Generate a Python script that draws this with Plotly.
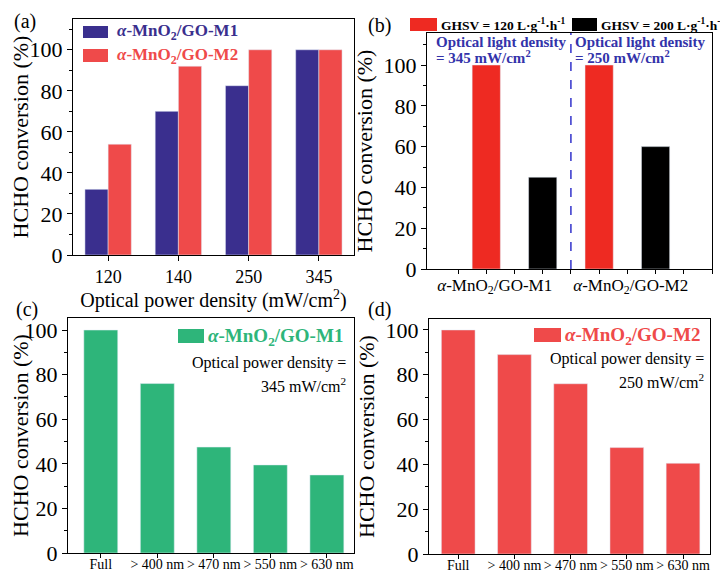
import plotly.graph_objects as go

# ---------------- data ----------------
power_cats = ["120", "140", "250", "345"]
a_m1 = [32, 70, 82.5, 100]
a_m2 = [54, 92, 100, 100]

b_cats = ["<i>α</i>-MnO<sub>2</sub>/GO-M1", "<i>α</i>-MnO<sub>2</sub>/GO-M2"]
b_ghsv120 = [100, 100]
b_ghsv200 = [45, 60]

filter_cats = ["Full", "> 400 nm", "> 470 nm", "> 550 nm", "> 630 nm"]
c_m1 = [100, 76, 47.5, 39.5, 35]
d_m2 = [100, 89, 76, 47.5, 40.5]

# ---------------- style ----------------
FONT = "Liberation Serif"
BLUE = "#3A2F8E"
RED = "#EF4A4A"
RED_B = "#EE2A22"
GREEN = "#2EB57A"
TXTBLUE = "#3333AA"
OFF = 8  # page body margin
W, H = 728 - OFF, 572 - OFF

def px(x):
    return (x - OFF) / W

def py(y):
    return 1 - (y - OFF) / H

fig = go.Figure()

# (a)
fig.add_trace(go.Bar(x=power_cats, y=a_m1, name="α-MnO2/GO-M1", marker_color=BLUE,
                     width=0.33, offset=-0.33, xaxis="x", yaxis="y", showlegend=False))
fig.add_trace(go.Bar(x=power_cats, y=a_m2, name="α-MnO2/GO-M2", marker_color=RED,
                     width=0.33, offset=0.0, xaxis="x", yaxis="y", showlegend=False))

# (b)
b_red_x = [2 * i + 1 for i in range(len(b_cats))]
b_blk_x = [2 * i + 2 for i in range(len(b_cats))]
fig.add_trace(go.Bar(x=b_red_x, y=b_ghsv120, name="GHSV = 120", marker_color=RED_B,
                     width=0.5, offset=-0.25, xaxis="x2", yaxis="y2", showlegend=False))
fig.add_trace(go.Bar(x=b_blk_x, y=b_ghsv200, name="GHSV = 200", marker_color="#000000",
                     width=0.5, offset=-0.25, xaxis="x2", yaxis="y2", showlegend=False))

# (c)
fig.add_trace(go.Bar(x=filter_cats, y=c_m1, name="α-MnO2/GO-M1", marker_color=GREEN,
                     width=0.6, offset=-0.3, xaxis="x3", yaxis="y3", showlegend=False))
# (d)
fig.add_trace(go.Bar(x=filter_cats, y=d_m2, name="α-MnO2/GO-M2", marker_color=RED,
                     width=0.6, offset=-0.3, xaxis="x4", yaxis="y4", showlegend=False))

axis_common = dict(showline=True, mirror=True, linecolor="black", linewidth=1.3,
                   showgrid=False, zeroline=False, ticks="outside", tickcolor="black",
                   ticklen=5, tickwidth=1.2, automargin=False)

ytitle = dict(text="HCHO conversion (%)", font=dict(family=FONT, size=22, color="black"), standoff=4)

def yaxis(domain, rng, anchor):
    return dict(axis_common, domain=domain, range=rng, anchor=anchor,
                tickvals=[0, 20, 40, 60, 80, 100],
                tickfont=dict(family=FONT, size=22, color="black"),
                minor=dict(tickvals=[10, 30, 50, 70, 90, 110], ticks="outside", ticklen=3,
                           tickcolor="black", tickwidth=1),
                title=ytitle)

def filter_xaxis(domain, rng, anchor):
    return dict(axis_common, domain=domain, range=rng, anchor=anchor, type="category",
                ticklen=4, ticklabelstandoff=-6,
                tickfont=dict(family=FONT, size=14))

fig.update_layout(
    width=W, height=H, margin=dict(l=0, r=0, t=0, b=0, autoexpand=False),
    paper_bgcolor="white", plot_bgcolor="white", barmode="group",
    font=dict(family=FONT, color="black"),
    xaxis=dict(axis_common, domain=[px(73), px(354)], anchor="y", type="category",
               range=[-0.5, 3.5], tickfont=dict(family=FONT, size=18),
               title=dict(text="Optical power density (mW/cm<sup>2</sup>)",
                          font=dict(family=FONT, size=20), standoff=0)),
    yaxis=yaxis([py(255), py(19)], [0, 115], "x"),
    xaxis2=dict(axis_common, domain=[px(427), px(712)], anchor="y2", range=[-0.05, 5],
                tickvals=[1.15, 3.56], ticktext=b_cats, ticklen=0,
                tickfont=dict(family=FONT, size=17),
                minor=dict(tickvals=[0.5, 1, 1.5, 2, 2.5, 3, 3.5, 4, 4.5, 5], ticks="outside",
                           ticklen=4, tickcolor="black", tickwidth=1)),
    yaxis2=yaxis([py(269), py(33)], [0, 115.7], "x2"),
    xaxis3=filter_xaxis([px(68), px(354)], [-0.58, 4.48], "y3"),
    yaxis3=yaxis([py(553), py(318)], [0, 105.4], "x3"),
    xaxis4=filter_xaxis([px(429), px(710)], [-0.52, 4.48], "y4"),
    yaxis4=yaxis([py(554), py(319)], [0, 104.9], "x4"),
)

shapes = []
annotations = []

def swatch(x0, x1, y0, y1, color):
    shapes.append(dict(type="rect", xref="paper", yref="paper", x0=px(x0), x1=px(x1),
                       y0=py(y1), y1=py(y0), fillcolor=color, line=dict(width=0)))

def text(x, y, s, size, color="black", xanchor="left", bold=False):
    if bold:
        s = "<b>" + s + "</b>"
    annotations.append(dict(xref="paper", yref="paper", x=px(x), y=py(y), text=s,
                            showarrow=False, xanchor=xanchor, yanchor="middle",
                            font=dict(family=FONT, size=size, color=color)))

# panel labels
text(12, 21, "(a)", 20)
text(366, 25, "(b)", 20)
text(14, 309, "(c)", 20)
text(366, 309, "(d)", 20)

# (a) legend
swatch(83, 108, 26, 38, BLUE)
text(115, 32, "<i>α</i>-MnO<sub>2</sub>/GO-M1", 17, BLUE, bold=True)
swatch(83, 108, 49, 62, RED)
text(115, 56, "<i>α</i>-MnO<sub>2</sub>/GO-M2", 17, RED, bold=True)

# (b) legend
swatch(410, 437, 18, 31, RED_B)
text(439, 24, "GHSV = 120 L·g<sup>-1</sup>·h<sup>-1</sup>", 13.5, bold=True)
swatch(572, 597, 18, 31, "#000000")
text(599, 24, "GHSV = 200 L·g<sup>-1</sup>·h<sup>-1</sup>", 13.5, bold=True)

# (b) inner notes
text(434, 42, "Optical light density", 15, TXTBLUE, bold=True)
text(434, 57, "= 345 mW/cm<sup>2</sup>", 15, TXTBLUE, bold=True)
text(573, 42, "Optical light density", 15, TXTBLUE, bold=True)
text(573, 57, "= 250 mW/cm<sup>2</sup>", 15, TXTBLUE, bold=True)
shapes.append(dict(type="line", xref="x2", yref="y2 domain", x0=2.5, x1=2.5, y0=0, y1=1,
                   line=dict(color="#3333CC", width=1.5, dash="dash")))

# (c) legend
swatch(178, 204, 329, 343, GREEN)
text(206, 337, "<i>α</i>-MnO<sub>2</sub>/GO-M1", 19, GREEN, bold=True)
text(348, 363, "Optical power density =", 16, xanchor="right")
text(348, 385, "345 mW/cm<sup>2</sup>", 16, xanchor="right")

# (d) legend
swatch(534, 561, 328, 342, RED)
text(563, 336, "<i>α</i>-MnO<sub>2</sub>/GO-M2", 19, RED, bold=True)
text(706, 359, "Optical power density =", 16, xanchor="right")
text(706, 381, "250 mW/cm<sup>2</sup>", 16, xanchor="right")

fig.update_layout(shapes=shapes, annotations=annotations)

fig.write_html("out.html")
